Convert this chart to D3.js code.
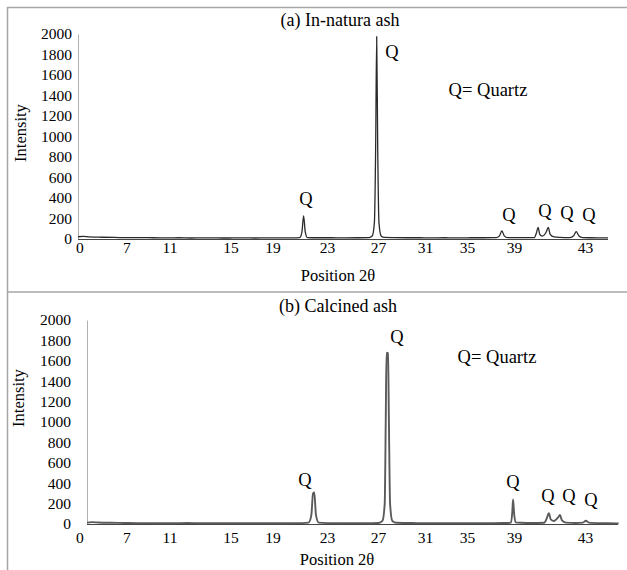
<!DOCTYPE html>
<html>
<head>
<meta charset="utf-8">
<script src="https://cdn.jsdelivr.net/npm/d3@7"></script>
<style>
html,body{margin:0;padding:0;background:#fff;}
svg{display:block;}
text{font-family:"Liberation Serif","Times New Roman",serif;fill:#000;}
</style>
</head>
<body>
<svg id="chart" width="627" height="570"></svg>
<script>
// ---- data (2θ, intensity) ----
const inNatura = [
  [3.1,22],[3.5,25],[4.0,20],[5,17],[6,15],[7,13],[8,14],[9,12],[10,11],[11,12],[12,10],[13,11],
  [14,10],[15,10],[16,11],[17,10],[18,11],[19,10],[20,11],[20.55,14],[20.72,70],[20.85,225],
  [20.98,70],[21.15,14],[22,12],[23,12],[24,11],[25,12],[26,14],[26.25,30],[26.42,160],
  [26.52,900],[26.6,1975],[26.68,900],[26.78,160],[26.95,30],[27.2,15],[28,13],[29,12],[30,12],
  [31,11],[32,12],[33,11],[34,12],[35,12],[36,13],[36.25,28],[36.45,78],[36.65,28],[36.9,14],
  [38,13],[39.0,14],[39.17,60],[39.3,114],[39.43,45],[39.62,28],[39.95,70],[40.1,114],[40.25,45],
  [40.55,20],[41,16],[41.8,14],[42.1,32],[42.3,71],[42.5,32],[42.8,14],[43.5,12],[44,11],[44.8,10]
];
const calcined = [
  [3.1,14],[3.5,18],[4.0,15],[5,12],[6,10],[7,8],[8,9],[9,7],[10,8],[11,10],[12,7],[13,8],
  [14,7],[15,8],[16,7],[17,8],[18,7],[19,8],[20,9],[20.5,14],[20.72,90],[20.85,300],[20.95,310],
  [21.08,90],[21.3,14],[22,9],[23,8],[24,9],[25,8],[26,10],[26.3,30],[26.48,200],[26.56,1000],
  [26.62,1680],[26.74,1675],[26.81,1000],[26.9,200],[27.08,30],[27.4,12],[28,10],[29,9],[30,9],
  [31,8],[32,9],[33,8],[34,9],[35,9],[36,10],[36.4,14],[36.5,120],[36.56,240],[36.63,120],
  [36.75,16],[37.2,12],[38,10],[39.0,12],[39.22,60],[39.37,106],[39.52,45],[39.75,30],
  [40.1,65],[40.24,88],[40.4,35],[40.7,14],[41.5,10],[42.05,14],[42.28,32],[42.5,14],[43.5,8],
  [44,7],[44.85,6]
];
const yTicks = [0,200,400,600,800,1000,1200,1400,1600,1800,2000];
const xTickPositions = [3.2,6.9,10.3,15.1,18.4,22.7,26.7,30.4,33.7,37.4,43.0];
const xTickLabels = ["0","7","11","15","19","23","27","31","35","39","43"];
const panelTitles = ["(a) In-natura ash","(b) Calcined ash"];

const svg = d3.select("#chart");
svg.append("rect").attr("width",627).attr("height",570).attr("fill","#fff");

// frame lines
const frame = svg.append("g").attr("stroke","#a6a6a6").attr("stroke-width",1.5).attr("fill","none");
frame.append("line").attr("x1",7).attr("x2",627).attr("y1",7.5).attr("y2",7.5);
frame.append("line").attr("x1",7.5).attr("x2",7.5).attr("y1",7).attr("y2",570);
frame.append("line").attr("x1",7).attr("x2",627).attr("y1",292).attr("y2",292);

const domainX = [3.1,44.8];
// label scale shared by both panels (labels sit at same page positions)
const labelX = d3.scaleLinear().domain(domainX).range([78,608]);

const panels = [
  {data:inNatura, left:78, right:608, top:34, bottom:239, labelRight:72, title:panelTitles[0],
   titleXY:[340,20], intXY:[20,133], posXY:[338,275], tickY:253,
   qXY:[[306,199],[392,52],[509,215],[545,211],[567,213],[589,215]], legendXY:[488,90],
   stroke:"#2a2a2a", sw:1.3},
  {data:calcined, left:87, right:618, top:320, bottom:524, labelRight:71, title:panelTitles[1],
   titleXY:[338,306], intXY:[18,398], posXY:[337,559], tickY:543,
   qXY:[[305,480],[397,337],[513,482],[548,496],[569,496],[591,500]], legendXY:[497,357],
   stroke:"#5a5a5a", sw:1.9}
];

panels.forEach((p,i) => {
  const x = d3.scaleLinear().domain(domainX).range([p.left,p.right]);
  const y = d3.scaleLinear().domain([0,2000]).range([p.bottom,p.top]);
  const g = svg.append("g");

  // y axis
  const ya = g.append("g").attr("transform",`translate(${p.left},0)`)
    .call(d3.axisLeft(y).tickValues(yTicks).tickFormat(d3.format("d"))
      .tickSize(0).tickPadding(p.left-p.labelRight).tickSizeOuter(0));
  ya.select(".domain").attr("stroke","#b0b0b0").attr("stroke-width",1);
  ya.selectAll("text").attr("font-size","15.5px").attr("font-family","Liberation Serif").attr("fill","#000");

  // x axis line
  g.append("line").attr("x1",p.left).attr("x2",p.right).attr("y1",p.bottom+0.5).attr("y2",p.bottom+0.5)
    .attr("stroke","#444").attr("stroke-width",1);

  // x tick labels (via label scale)
  const xa = g.append("g").attr("transform",`translate(0,${p.tickY-11})`)
    .call(d3.axisBottom(labelX).tickValues(xTickPositions).tickFormat((d,k)=>xTickLabels[k]).tickSize(0).tickPadding(0));
  xa.select(".domain").remove();
  xa.selectAll("text").attr("font-size","15.5px").attr("font-family","Liberation Serif").attr("fill","#000");

  // data line
  g.append("path").datum(p.data)
    .attr("fill","none").attr("stroke",p.stroke).attr("stroke-width",p.sw).attr("stroke-linejoin","round")
    .attr("d", d3.line().x(d=>x(d[0])).y(d=>y(d[1])).curve(d3.curveMonotoneX));

  // titles
  g.append("text").attr("x",p.titleXY[0]).attr("y",p.titleXY[1]).attr("dy","0.35em")
    .attr("text-anchor","middle").attr("font-size","18px").text(p.title);
  g.append("text").attr("transform",`translate(${p.intXY[0]},${p.intXY[1]}) rotate(-90)`).attr("dy","0.35em")
    .attr("text-anchor","middle").attr("font-size","16.5px").text("Intensity");
  g.append("text").attr("x",p.posXY[0]).attr("y",p.posXY[1]).attr("dy","0.35em")
    .attr("text-anchor","middle").attr("font-size","16.5px").text("Position 2θ");

  // Q labels
  p.qXY.forEach(q => {
    g.append("text").attr("x",q[0]).attr("y",q[1]).attr("dy","0.35em")
      .attr("text-anchor","middle").attr("font-size","18.5px").text("Q");
  });
  g.append("text").attr("x",p.legendXY[0]).attr("y",p.legendXY[1]).attr("dy","0.35em")
    .attr("text-anchor","middle").attr("font-size","18.5px").text("Q= Quartz");
});
</script>
</body>
</html>
